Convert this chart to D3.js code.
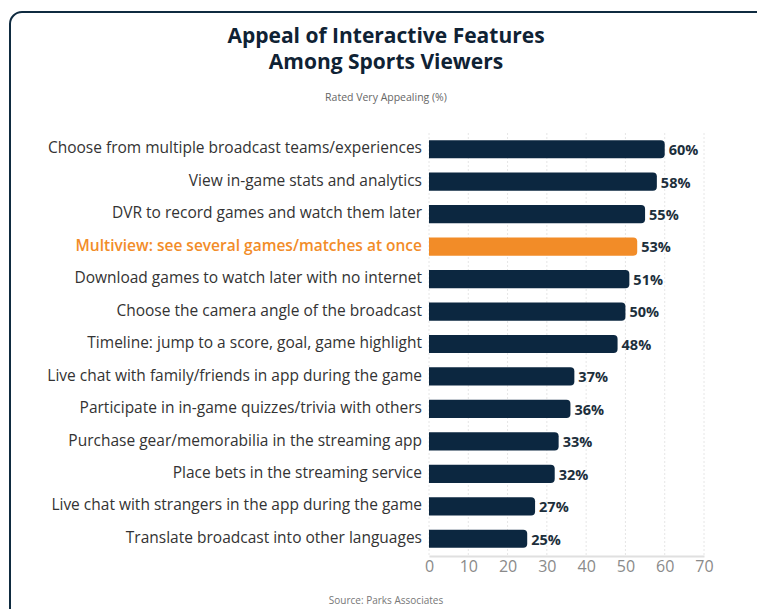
<!DOCTYPE html>
<html><head><meta charset="utf-8">
<script src="https://cdn.jsdelivr.net/npm/d3@7"></script>
<style>
html,body{margin:0;padding:0;background:#fff;}
svg{display:block;font-family:"Open Sans",sans-serif;}
</style></head>
<body>
<svg id="c" width="757" height="609"></svg>
<script>
const categories = [
  "Choose from multiple broadcast teams/experiences",
  "View in-game stats and analytics",
  "DVR to record games and watch them later",
  "Multiview: see several games/matches at once",
  "Download games to watch later with no internet",
  "Choose the camera angle of the broadcast",
  "Timeline: jump to a score, goal, game highlight",
  "Live chat with family/friends in app during the game",
  "Participate in in-game quizzes/trivia with others",
  "Purchase gear/memorabilia in the streaming app",
  "Place bets in the streaming service",
  "Live chat with strangers in the app during the game",
  "Translate broadcast into other languages"
];
const values = [60, 58, 55, 53, 51, 50, 48, 37, 36, 33, 32, 27, 25];
const highlight = "Multiview: see several games/matches at once";
const ticks = [0, 10, 20, 30, 40, 50, 60, 70];

const svg = d3.select("#c");
const navy = "#0c2740", orange = "#f28c28";

// card
svg.append("rect").attr("x", 10).attr("y", 12).attr("width", 800).attr("height", 700)
  .attr("rx", 12).attr("fill", "#fff").attr("stroke", "#0f2b40").attr("stroke-width", 2);

const x = d3.scaleLinear().domain([0, 70]).range([429, 704]);
const y = d3.scaleBand().domain(categories).range([133, 555]).paddingInner(0.44).paddingOuter(0.22);

// grid
svg.append("g").selectAll("line").data(ticks).join("line")
  .attr("x1", d => x(d)).attr("x2", d => x(d))
  .attr("y1", 133).attr("y2", 556)
  .attr("stroke", "#e6e6e6").attr("stroke-dasharray", "2,2");

// axis
const ax = svg.append("g").attr("transform", "translate(0,556)")
  .call(d3.axisBottom(x).tickValues(ticks).tickSize(0).tickPadding(5));
ax.select(".domain").attr("stroke", "#e0e0e0").attr("stroke-width", 2);
ax.selectAll("text").attr("font-size", 16).attr("fill", "#8a8a8a")
  .attr("font-family", "'Open Sans',sans-serif");

// bars: square left, rounded right
const r = 4;
svg.append("g").selectAll("path").data(categories).join("path")
  .attr("d", (c, i) => {
    const x0 = x(0), x1 = x(values[i]), y0 = y(c), h = y.bandwidth();
    return `M${x0},${y0}H${x1 - r}Q${x1},${y0} ${x1},${y0 + r}V${y0 + h - r}Q${x1},${y0 + h} ${x1 - r},${y0 + h}H${x0}Z`;
  })
  .attr("fill", c => c === highlight ? orange : navy);

// value labels
svg.append("g").selectAll("text").data(categories).join("text")
  .attr("x", (c, i) => x(values[i]) + 4)
  .attr("y", c => y(c) + y.bandwidth() / 2 + 2)
  .attr("dominant-baseline", "middle")
  .attr("font-size", 14.5).attr("font-weight", 700).attr("fill", "#1d2f3c")
  .text((c, i) => values[i] + "%");

// category labels
svg.append("g").selectAll("text").data(categories).join("text")
  .attr("x", 422)
  .attr("y", c => y(c) + y.bandwidth() / 2)
  .attr("dominant-baseline", "middle")
  .attr("text-anchor", "end")
  .attr("font-size", 15.5)
  .attr("font-weight", c => c === highlight ? 600 : 400)
  .attr("fill", c => c === highlight ? orange : "#333")
  .text(c => c);

// titles
svg.append("text").attr("x", 386).attr("y", 43).attr("text-anchor", "middle")
  .attr("font-size", 21).attr("font-weight", 700).attr("fill", "#0f2234")
  .text("Appeal of Interactive Features");
svg.append("text").attr("x", 386).attr("y", 69).attr("text-anchor", "middle")
  .attr("font-size", 21).attr("font-weight", 700).attr("fill", "#0f2234")
  .text("Among Sports Viewers");
svg.append("text").attr("x", 386).attr("y", 101).attr("text-anchor", "middle")
  .attr("font-size", 10.5).attr("fill", "#666")
  .text("Rated Very Appealing (%)");
svg.append("text").attr("x", 386).attr("y", 604).attr("text-anchor", "middle")
  .attr("font-size", 10).attr("fill", "#777")
  .text("Source: Parks Associates");
</script>
</body></html>
